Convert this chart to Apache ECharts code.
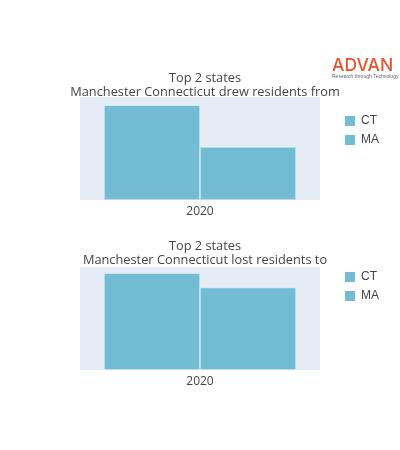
<!DOCTYPE html><html><head><meta charset="utf-8"><script src="https://cdn.jsdelivr.net/npm/echarts@6/dist/echarts.min.js"></script></head><body style="margin:0"><div id="c" style="width:400px;height:450px"></div><script>
const categories=['2020'];
const states=['CT','MA'];
const drewValues=[92,51.5];
const lostValues=[94,80];
const col='#72bcd4';
const ch=echarts.init(document.getElementById('c'));
const ax=(i)=>({gridIndex:i,type:'category',data:categories,axisLine:{show:false},axisTick:{show:false},axisLabel:{color:'#444',fontSize:12,margin:6,fontFamily:'Open Sans'}});
const ay=(i)=>({gridIndex:i,type:'value',min:0,max:100,show:false,splitLine:{show:false}});
const bar=(n,v,g)=>({name:n,type:'bar',xAxisIndex:g,yAxisIndex:g,data:[v],barGap:'0%',barCategoryGap:'20%',itemStyle:{color:col,borderColor:'#fff',borderWidth:0.5},silent:true});
const ts={fontSize:12.8,fontWeight:'normal',color:'#444',lineHeight:14.5,fontFamily:'Open Sans'};
ch.setOption({animation:false,
title:[{text:'Top 2 states\nManchester Connecticut drew residents from',left:200,textAlign:'center',top:66,textStyle:ts},
{text:'Top 2 states\nManchester Connecticut lost residents to',left:200,textAlign:'center',top:234,textStyle:ts},
{text:'ADVAN',left:327,top:52,textStyle:{color:'#e8542a',fontSize:17.5,fontWeight:500,fontFamily:'Inter'},subtext:'Research through Technology',itemGap:-1,subtextStyle:{fontSize:5,color:'#666'}}],
grid:[{left:80,right:80,top:97,height:103,backgroundColor:'#e5ecf6',show:true,borderWidth:0},{left:80,right:80,top:267,height:103,backgroundColor:'#e5ecf6',show:true,borderWidth:0}],
legend:[{data:states,left:338,top:109,orient:'vertical',itemWidth:12,itemHeight:12,itemGap:5,textStyle:{color:'#444',fontSize:12},icon:'rect'},
{data:states,left:338,top:265,orient:'vertical',itemWidth:12,itemHeight:12,itemGap:5,textStyle:{color:'#444',fontSize:12},icon:'rect'}],
xAxis:[ax(0),ax(1)],yAxis:[ay(0),ay(1)],
series:[bar('CT',drewValues[0],0),bar('MA',drewValues[1],0),bar('CT',lostValues[0],1),bar('MA',lostValues[1],1)]});
</script></body></html>
